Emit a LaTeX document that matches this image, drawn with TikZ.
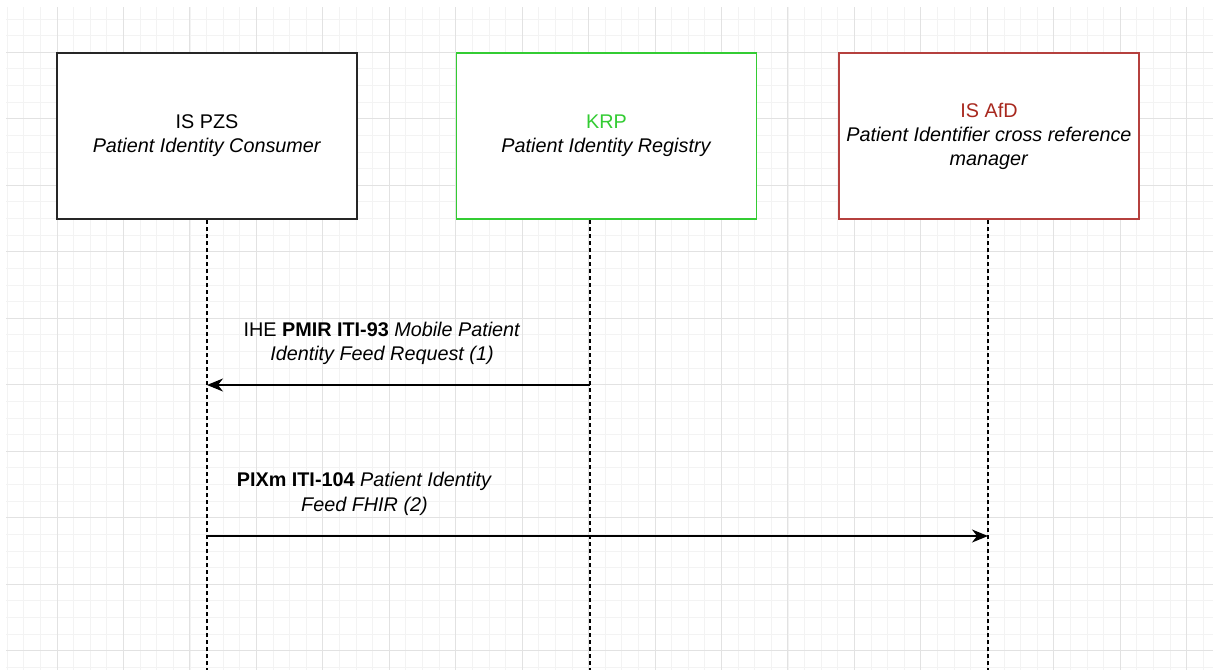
\documentclass[tikz,border=0pt]{standalone}
\usepackage{fontspec}
\setmainfont{Liberation Sans}
\usetikzlibrary{arrows.meta}
\definecolor{gridminor}{HTML}{F3F3F3}
\definecolor{gridmajor}{HTML}{E2E2E2}
\definecolor{krpgreen}{HTML}{33CC33}
\definecolor{afdborder}{HTML}{B5403E}
\definecolor{afdtext}{HTML}{A8281E}
\tikzset{
  actor/.style={draw, line width=1.4pt, fill=white, minimum width=300pt, minimum height=166pt, inner sep=0pt},
  actortext/.style={align=center, font=\fontsize{19.8}{24}\selectfont, inner sep=0pt},
  lifeline/.style={draw=black, line width=1.3pt, dash pattern=on 4pt off 3pt},
  msg/.style={draw=black, line width=1.4pt, arrows={-Stealth[length=16pt, width=13pt, inset=5pt]}},
  msglabel/.style={align=center, font=\fontsize{19.8}{24.5}\selectfont, inner sep=0pt}
}
\begin{document}
\begin{tikzpicture}[x=1pt,y=-1pt]
\useasboundingbox (0,0) rectangle (1213,670);
\fill[white] (0,0) rectangle (1213,670);
% grid
\begin{scope}
\clip (6,7) rectangle (1213,670);
\foreach \k in {-3,...,69} {
  \pgfmathsetmacro{\xx}{57+16.6125*\k}
  \draw[gridminor, line width=0.8pt] (\xx,0) -- (\xx,670);
}
\foreach \k in {-2,...,37} {
  \pgfmathsetmacro{\yy}{52.2+16.625*\k}
  \draw[gridminor, line width=0.8pt] (0,\yy) -- (1213,\yy);
}
\foreach \k in {-1,...,17} {
  \pgfmathsetmacro{\xx}{57+66.45*\k}
  \draw[gridmajor, line width=1pt] (\xx,0) -- (\xx,670);
}
\foreach \k in {-1,...,9} {
  \pgfmathsetmacro{\yy}{52.2+66.5*\k}
  \draw[gridmajor, line width=1pt] (0,\yy) -- (1213,\yy);
}
\end{scope}
% lifelines
\coordinate (l1top) at (207,220);
\coordinate (l1bot) at (207,670);
\coordinate (l2top) at (590,220);
\coordinate (l2bot) at (590,670);
\coordinate (l3top) at (988,220);
\coordinate (l3bot) at (988,670);
\draw[lifeline] (l1top) -- (l1bot);
\draw[lifeline] (l2top) -- (l2bot);
\draw[lifeline] (l3top) -- (l3bot);
% actors
\node[actor, draw=black!85] (pzs) at (207,136) {};
\node[actortext] (pzst) at (pzs.center) {IS PZS\\\textit{Patient Identity Consumer}};
\node[actor, draw=krpgreen] (krp) at (606.5,136) {};
\node[actortext] (krpt) at (krp.center) {\textcolor{krpgreen}{KRP}\\\textit{Patient Identity Registry}};
\node[actor, draw=afdborder] (afd) at (989,136) {};
\node[actortext] (afdt) at (afd.center) {\textcolor{afdtext}{IS AfD}\\\textit{Patient Identifier cross reference}\\\textit{manager}};
% messages
\coordinate (m1s) at (590,385);
\coordinate (m1e) at (207,385);
\coordinate (m2s) at (207,536);
\coordinate (m2e) at (988,536);
\draw[msg] (m1s) -- (m1e);
\draw[msg] (m2s) -- (m2e);
\node[msglabel] (lab1) at (382,343.5) {IHE \textbf{PMIR ITI-93} \textit{Mobile Patient}\\\textit{Identity Feed Request (1)}};
\node[msglabel] (lab2) at (364.5,494) {\textbf{PIXm ITI-104} \textit{Patient Identity}\\\textit{Feed FHIR (2)}};
\end{tikzpicture}
\end{document}
